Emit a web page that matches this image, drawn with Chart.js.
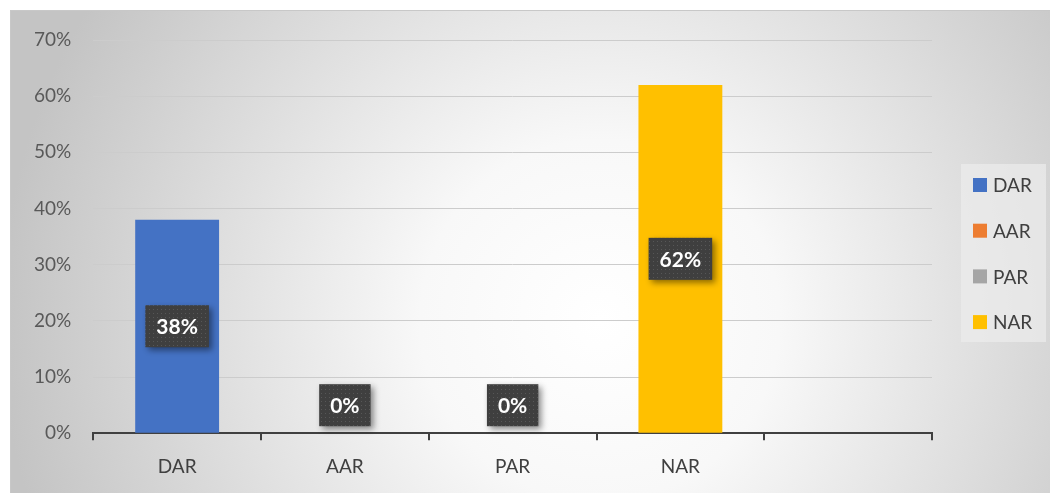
<!DOCTYPE html>
<html>
<head>
<meta charset="utf-8">
<script src="https://cdn.jsdelivr.net/npm/chart.js@4.4.0/dist/chart.umd.min.js"></script>
<style>
  html, body { margin: 0; padding: 0; background: #fff; }
  #wrap { width: 1050px; height: 493px; position: relative; }
</style>
</head>
<body>
<div id="wrap"><canvas id="rateChart"></canvas></div>
<script>
// categories and values (last slot is empty in the original)
var categories = ["DAR", "AAR", "PAR", "NAR", ""];
var rateValues = [0.38, 0, 0, 0.62, null];
var barColors = ["#4472C4", "#ED7D31", "#A5A5A5", "#FFC000", "#FFFFFF"];
var legendNames = ["DAR", "AAR", "PAR", "NAR"];

var fontFamily = "Lato, 'Noto Sans', sans-serif";

// dotted dark fill for the value boxes
function makeDotPattern(ctx) {
	var c = document.createElement("canvas");
	c.width = 4;
	c.height = 4;
	var p = c.getContext("2d");
	p.fillStyle = "#3f3f3f";
	p.fillRect(0, 0, 4, 4);
	p.fillStyle = "#575757";
	p.fillRect(1, 1, 1, 1);
	return ctx.createPattern(c, "repeat");
}

var backgroundPlugin = {
	id: "excelBackground",
	beforeDraw: function (chart) {
		var ctx = chart.ctx;
		var x0 = 10, y0 = 10, w = chart.width - 10, h = chart.height - 10;
		ctx.save();
		var g = ctx.createRadialGradient(600, 320, 0, 600, 320, 600);
		g.addColorStop(0, "#ffffff");
		g.addColorStop(0.3, "#f8f8f8");
		g.addColorStop(1, "#c4c4c4");
		ctx.fillStyle = g;
		ctx.fillRect(x0, y0, w, h);
		ctx.strokeStyle = "#c8c8c8";
		ctx.lineWidth = 1;
		ctx.strokeRect(x0 + 0.5, y0 + 0.5, w, h);
		ctx.restore();
	}
};

// legend on the right, inside a light panel
var legendPlugin = {
	id: "sideLegend",
	afterDraw: function (chart) {
		var ctx = chart.ctx;
		var px = 961, py = 164, pw = 85, ph = 178;
		var firstY = 185, step = 45.7;
		ctx.save();
		ctx.fillStyle = "rgba(236,236,236,0.7)";
		ctx.fillRect(px, py, pw, ph);
		ctx.font = "19px " + fontFamily;
		ctx.textBaseline = "middle";
		ctx.textAlign = "left";
		legendNames.forEach(function (name, i) {
			var cy = firstY + i * step;
			ctx.fillStyle = barColors[i];
			ctx.fillRect(973, cy - 7, 14, 14);
			ctx.fillStyle = "#404040";
			ctx.fillText(name, 993, cy + 1);
		});
		ctx.restore();
	}
};

var valueBoxPlugin = {
	id: "valueBoxes",
	afterDatasetsDraw: function (chart) {
		var ctx = chart.ctx;
		var meta = chart.getDatasetMeta(0);
		var pattern = makeDotPattern(ctx);
		ctx.save();
		ctx.font = "bold 21px " + fontFamily;
		ctx.textAlign = "center";
		ctx.textBaseline = "middle";
		meta.data.forEach(function (bar, i) {
			var v = rateValues[i];
			if (v === null || v === undefined) return;
			var text = Math.round(v * 100) + "%";
			var tw = ctx.measureText(text).width;
			var bw = tw + 22, bh = 42;
			var cy = v > 0 ? (bar.y + bar.base) / 2 : bar.base - 28;
			var bx = bar.x - bw / 2, by = cy - bh / 2;
			ctx.save();
			ctx.shadowColor = "rgba(0,0,0,0.45)";
			ctx.shadowBlur = 6;
			ctx.shadowOffsetX = 3;
			ctx.shadowOffsetY = 3;
			ctx.fillStyle = pattern;
			ctx.fillRect(bx, by, bw, bh);
			ctx.restore();
			ctx.fillStyle = "#ffffff";
			ctx.fillText(text, bar.x, cy + 1);
		});
		ctx.restore();
	}
};

var rateChart = new Chart(document.getElementById("rateChart"), {
	type: "bar",
	data: {
		labels: categories,
		datasets: [
			{
				label: "Rate",
				data: rateValues,
				backgroundColor: barColors,
				categoryPercentage: 1,
				barPercentage: 0.5
			}
		]
	},
	options: {
		responsive: true,
		maintainAspectRatio: false,
		animation: false,
		layout: { padding: { left: 12, top: 40, right: 118, bottom: 0 } },
		plugins: {
			tooltip: { enabled: false },
			legend: { display: false }
		},
		scales: {
			x: {
				grid: {
					display: true,
					offset: true,
					drawOnChartArea: false,
					tickLength: 7,
					color: "#404040",
					lineWidth: 2
				},
				border: { color: "#404040", width: 2 },
				ticks: {
					color: "#404040",
					padding: 15,
					font: { family: fontFamily, size: 19 }
				}
			},
			y: {
				min: 0,
				max: 0.7,
				grid: { color: "#cccccc", lineWidth: 1, drawTicks: false },
				border: { display: false },
				ticks: {
					stepSize: 0.1,
					padding: 22,
					color: "#595959",
					font: { family: fontFamily, size: 19 },
					callback: function (v) { return Math.round(v * 100) + "%"; }
				}
			}
		}
	},
	plugins: [backgroundPlugin, valueBoxPlugin, legendPlugin]
});
</script>
</body>
</html>
